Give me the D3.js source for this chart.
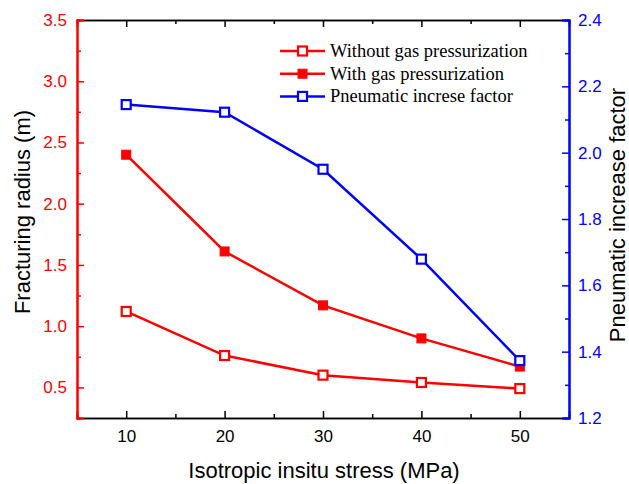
<!DOCTYPE html>
<html>
<head>
<meta charset="utf-8">
<script src="https://cdn.jsdelivr.net/npm/d3@7"></script>
<style>
  html, body { margin: 0; padding: 0; background: #fff; }
  svg { display: block; }
</style>
</head>
<body>
<svg id="chart" width="629" height="484"></svg>
<script>
// Isotropic in-situ stress (MPa)
const stress = [10, 20, 30, 40, 50];
// Fracturing radius (m)
const withoutGas = [1.12, 0.76, 0.60, 0.54, 0.49];
const withGas = [2.40, 1.61, 1.17, 0.90, 0.67];
// Pneumatic increase factor (right axis)
const factor = [2.145, 2.122, 1.95, 1.679, 1.373];

const xTicks = [10, 20, 30, 40, 50];
const yLeftTicks = [0.5, 1.0, 1.5, 2.0, 2.5, 3.0, 3.5];
const yRightTicks = [1.2, 1.4, 1.6, 1.8, 2.0, 2.2, 2.4];

const legendLabels = ["Without gas pressurization", "With gas pressurization", "Pneumatic increse factor"];

const RED = "#ff0000", BLUE = "#0000ff";
const margin = { left: 77, right: 60, top: 20, bottom: 66 };
const W = 629, H = 484;
const x0 = margin.left, x1 = W - margin.right, y0 = margin.top, y1 = H - margin.bottom;

const svg = d3.select("#chart");

const x = d3.scaleLinear().domain([5, 55]).range([x0, x1]);
const yL = d3.scaleLinear().domain([0.25, 3.5]).range([y1, y0]);
const yR = d3.scaleLinear().domain([1.2, 2.4]).range([y1, y0]);

const sans = "Liberation Sans, Arial, sans-serif";
const serif = "Liberation Serif, Times New Roman, serif";
const tickFont = 17;
const titleFont = 22;

// Bottom axis (ticks pointing inward)
const axBottom = svg.append("g").attr("transform", `translate(0,${y1})`);
axBottom.call(d3.axisBottom(x).tickValues(xTicks).tickSize(-7).tickPadding(12).tickFormat(d3.format("d")));
axBottom.append("g").call(d3.axisBottom(x).tickValues([15, 25, 35, 45]).tickSize(-4).tickFormat(""));
axBottom.selectAll("path.domain").attr("stroke", "#000").attr("stroke-width", 1.5);
axBottom.selectAll(".tick line").attr("stroke", "#000").attr("stroke-width", 1.5);
axBottom.selectAll("text").attr("font-family", sans).attr("font-size", tickFont).attr("fill", "#000");

// Top axis mirror
const axTop = svg.append("g").attr("transform", `translate(0,${y0})`);
axTop.call(d3.axisTop(x).tickValues(xTicks).tickSize(-7).tickFormat(""));
axTop.append("g").call(d3.axisTop(x).tickValues([15, 25, 35, 45]).tickSize(-4).tickFormat(""));
axTop.selectAll("path.domain").attr("stroke", "#000").attr("stroke-width", 1.5);
axTop.selectAll(".tick line").attr("stroke", "#000").attr("stroke-width", 1.5);

// Left axis (red)
const axLeft = svg.append("g").attr("transform", `translate(${x0},0)`);
axLeft.call(d3.axisLeft(yL).tickValues(yLeftTicks).tickSize(-7).tickPadding(10).tickFormat(d3.format(".1f")));
axLeft.append("g").call(d3.axisLeft(yL).tickValues([0.25, 0.75, 1.25, 1.75, 2.25, 2.75, 3.25]).tickSize(-4).tickFormat(""));
axLeft.selectAll("path.domain").attr("stroke", RED).attr("stroke-width", 2);
axLeft.selectAll(".tick line").attr("stroke", RED).attr("stroke-width", 1.5);
axLeft.selectAll("text").attr("font-family", sans).attr("font-size", tickFont).attr("fill", RED);

// Right axis (blue)
const axRight = svg.append("g").attr("transform", `translate(${x1},0)`);
axRight.call(d3.axisRight(yR).tickValues(yRightTicks).tickSize(-7).tickPadding(9).tickFormat(d3.format(".1f")));
axRight.append("g").call(d3.axisRight(yR).tickValues([1.3, 1.5, 1.7, 1.9, 2.1, 2.3]).tickSize(-4).tickFormat(""));
axRight.selectAll("path.domain").attr("stroke", BLUE).attr("stroke-width", 2);
axRight.selectAll(".tick line").attr("stroke", BLUE).attr("stroke-width", 1.5);
axRight.selectAll("text").attr("font-family", sans).attr("font-size", tickFont).attr("fill", BLUE);

// Axis titles
svg.append("text")
  .attr("transform", `translate(30,${(y0 + y1) / 2 - 7}) rotate(-90)`)
  .attr("text-anchor", "middle")
  .attr("font-family", sans).attr("font-size", titleFont).attr("fill", "#000")
  .text("Fracturing radius (m)");
svg.append("text")
  .attr("transform", `translate(625,${(y0 + y1) / 2 - 4}) rotate(-90)`)
  .attr("text-anchor", "middle")
  .attr("font-family", sans).attr("font-size", titleFont).attr("fill", "#000")
  .text("Pneumatic increase factor");
svg.append("text")
  .attr("x", (x0 + x1) / 2 + 1).attr("y", 478)
  .attr("text-anchor", "middle")
  .attr("font-family", sans).attr("font-size", titleFont).attr("fill", "#000")
  .text("Isotropic insitu stress (MPa)");

// Series
const series = [
  { values: withoutGas, y: yL, color: RED, filled: false },
  { values: withGas, y: yL, color: RED, filled: true },
  { values: factor, y: yR, color: BLUE, filled: false }
];

const plot = svg.append("g");
const ms = 9;
series.forEach(s => {
  const pts = stress.map((v, i) => [v, s.values[i]]);
  plot.append("path")
    .datum(pts)
    .attr("fill", "none")
    .attr("stroke", s.color)
    .attr("stroke-width", 2.5)
    .attr("d", d3.line().x(d => x(d[0])).y(d => s.y(d[1])));
  plot.selectAll(null)
    .data(pts)
    .join("rect")
    .attr("x", d => x(d[0]) - ms / 2)
    .attr("y", d => s.y(d[1]) - ms / 2)
    .attr("width", ms).attr("height", ms)
    .attr("fill", s.filled ? s.color : "#fff")
    .attr("stroke", s.color)
    .attr("stroke-width", s.filled ? 1 : 2.2);
});

// Legend
const legend = svg.append("g");
series.forEach((s, i) => {
  const ly = 51 + i * 22.7;
  const g = legend.append("g");
  g.append("line").attr("x1", 280).attr("x2", 325).attr("y1", ly).attr("y2", ly)
    .attr("stroke", s.color).attr("stroke-width", 2.5);
  g.append("rect").attr("x", 302.5 - ms / 2).attr("y", ly - ms / 2).attr("width", ms).attr("height", ms)
    .attr("fill", s.filled ? s.color : "#fff").attr("stroke", s.color)
    .attr("stroke-width", s.filled ? 1 : 2.2);
  g.append("text").attr("x", 330).attr("y", ly + 6)
    .attr("font-family", serif).attr("font-size", 18.5).attr("fill", "#000")
    .text(legendLabels[i]);
});
</script>
</body>
</html>
